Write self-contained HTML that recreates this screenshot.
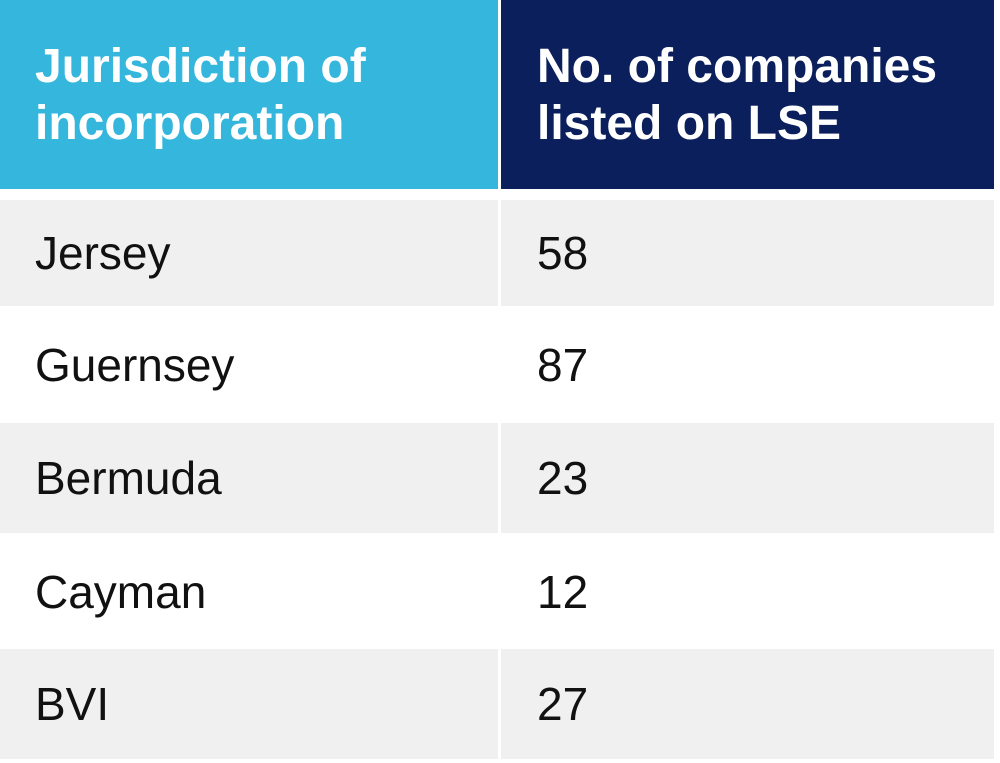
<!DOCTYPE html>
<html><head><meta charset="utf-8"><style>
body{margin:0;width:1000px;height:763px;background:#fff;overflow:hidden;font-family:"Liberation Sans",Arial,sans-serif;position:relative}
.c{position:absolute;box-sizing:border-box;padding-left:35px;display:flex;align-items:center}
.h{color:#fff;font-weight:bold;font-size:48px;line-height:57px;top:0;height:189px}
.b{font-size:46px;color:#111}
</style></head><body>
<div class="c h" style="left:0;width:498px;background:#35b6dc">Jurisdiction of<br>incorporation</div>
<div class="c h" style="left:501px;width:493px;background:#0b1f5d;padding-left:36px">No. of companies<br>listed on LSE</div>
<div id="rows"></div>
<script>
const names=["Jersey","Guernsey","Bermuda","Cayman","BVI"];
const counts=[58,87,23,12,27];
const tops=[200,308,423,537,649],hs=[106,113,110,110,110];
const r=document.getElementById('rows');
names.forEach((n,i)=>{
 const bg=i%2==0?'#f0f0f0':'#fff';
 const a=document.createElement('div');a.className='c b';
 
 
 a.style.cssText=`left:0;width:498px;top:${tops[i]}px;height:${hs[i]}px;background:${bg}`;
 a.textContent=n;r.appendChild(a);
 const b=document.createElement('div');b.className='c b';
 
 
 b.style.cssText=`left:501px;width:493px;top:${tops[i]}px;height:${hs[i]}px;background:${bg};padding-left:36px`;
 b.textContent=counts[i];r.appendChild(b);
});
</script>
</body></html>
